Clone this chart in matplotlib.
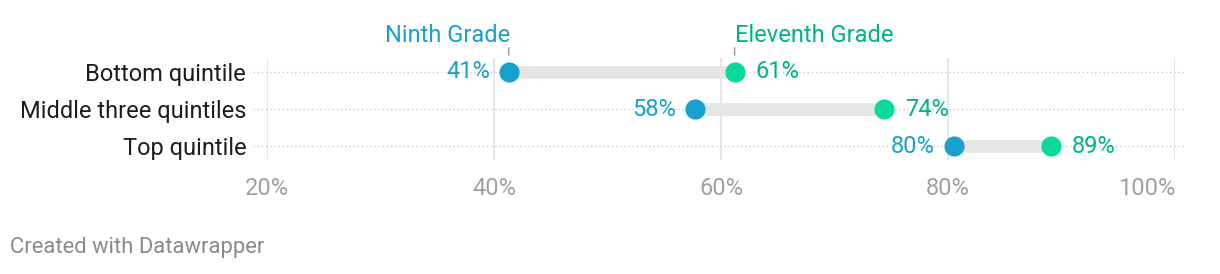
"""Dumbbell chart: share of students by income quintile, ninth vs eleventh grade."""

import matplotlib.pyplot as plt

plt.rcParams["font.family"] = ["Roboto", "DejaVu Sans"]

groups = ["Bottom quintile", "Middle three quintiles", "Top quintile"]
ninth = [41.3, 57.7, 80.5]
eleventh = [61.2, 74.4, 89.1]
ninth_labels = ["41%", "58%", "80%"]
eleventh_labels = ["61%", "74%", "89%"]
x_ticks = [20, 40, 60, 80, 100]

BLUE = "#18a1cd"
GREEN_DOT = "#09d99c"
GREEN_TEXT = "#00b386"
BAR = "#e4e4e4"
FS = 17

fig = plt.figure(figsize=(12.2, 2.74), dpi=100)
W, H = 1220, 274
ax = fig.add_axes([267 / W, 1 - 160 / H, (1175 - 267) / W, (160 - 58) / H])
ax.set_xlim(20, 100)
ax.set_ylim(2.378, -0.378)

rows = list(range(len(groups)))

# grid
for t in x_ticks:
    ax.axvline(t, color="#e2e2e2", lw=1.2, zorder=0)
ax.hlines(rows, 18.8, 100.9, colors="#cccccc", lw=1, linestyles=(0, (1, 2)),
          zorder=0, clip_on=False)

for y, a, b, la, lb in zip(rows, ninth, eleventh, ninth_labels, eleventh_labels):
    ax.plot([a, b], [y, y], color=BAR, lw=9, solid_capstyle="butt", zorder=1)
    ax.plot(a, y, "o", ms=14.5, color=BLUE, mec="none", zorder=3)
    ax.plot(b, y, "o", ms=14.5, color=GREEN_DOT, mec="none", zorder=3)
    ax.annotate(la, (a, y), xytext=(-13.5, 0), textcoords="offset points",
                ha="right", va="center", fontsize=FS, color=BLUE)
    ax.annotate(lb, (b, y), xytext=(15, 0), textcoords="offset points",
                ha="left", va="center", fontsize=FS, color=GREEN_TEXT)

# series headers above the first row
for x, name, col, ha in [(ninth[0], "Ninth Grade", BLUE, "right"),
                         (eleventh[0], "Eleventh Grade", GREEN_TEXT, "left")]:
    ax.annotate("", xy=(x, -0.38), xytext=(x, -0.73),
                arrowprops=dict(arrowstyle="-", color="#999999", lw=1),
                annotation_clip=False)
    ax.text(x + (0.1 if ha == "right" else 0), -0.8, name, ha=ha, va="baseline",
            fontsize=FS, color=col, clip_on=False)

ax.set_yticks(rows)
ax.set_yticklabels(groups, fontsize=FS, color="#1d1d1d")
ax.set_xticks(x_ticks)
ax.set_xticklabels([f"{t}%" for t in x_ticks], fontsize=FS, color="#a0a0a0")
ax.get_xticklabels()[-1].set_ha("right")
ax.tick_params(axis="y", length=0, pad=15)
ax.tick_params(axis="x", length=0, pad=12)
for s in ax.spines.values():
    s.set_visible(False)

fig.text(10 / W, 1 - 248 / H, "Created with Datawrapper", fontsize=15.8,
         color="#8a8a8a", va="center", ha="left")

fig.savefig("out.png", dpi=100)
